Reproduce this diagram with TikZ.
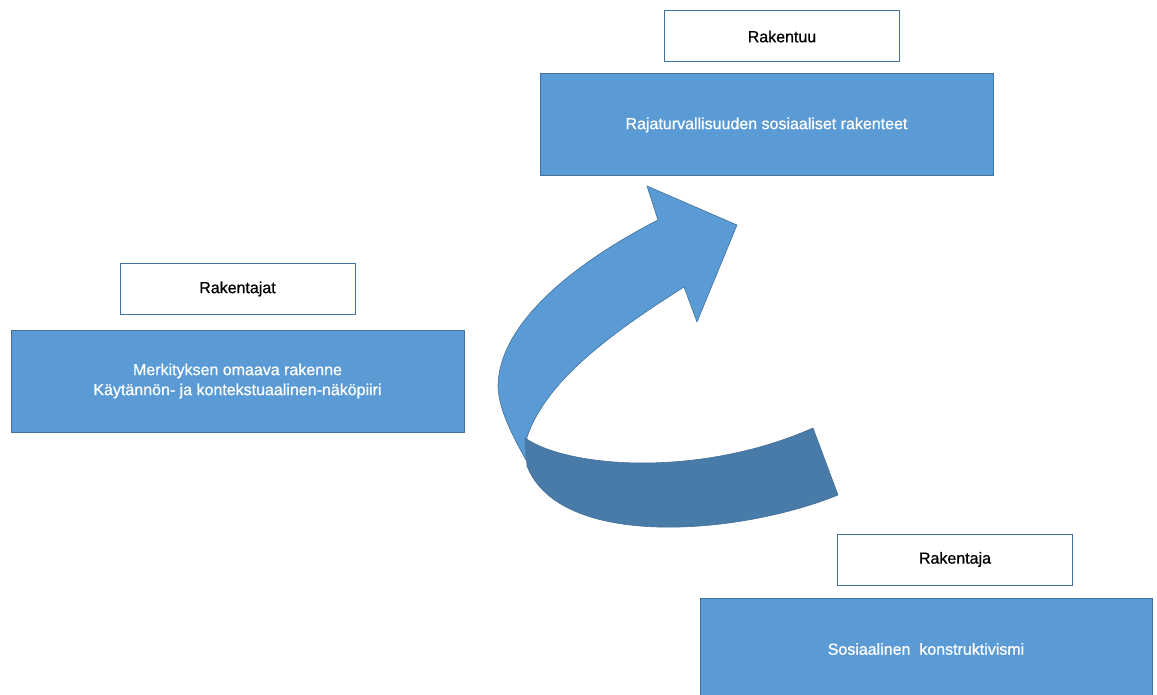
\documentclass[tikz,border=0pt]{standalone}
\usepackage{fontspec}
\setmainfont{Liberation Sans}
\newfontfamily\boxfont[FakeBold=0.8]{Liberation Sans}
\definecolor{boxblue}{HTML}{5B9BD5}
\definecolor{boxedge}{HTML}{41719C}
\definecolor{darkband}{HTML}{497BA9}
\tikzset{
  bluebox/.style={draw=boxedge, line width=1pt, fill=boxblue, text=white, inner sep=0pt, outer sep=0pt,
    minimum width=453pt, minimum height=102pt, align=center, font=\boxfont\fontsize{16}{20}\selectfont},
  labelbox/.style={draw=boxedge, line width=1pt, fill=white, text=black, inner sep=0pt, outer sep=0pt,
    minimum width=235pt, minimum height=51pt, align=center, font=\boxfont\fontsize{16}{20}\selectfont},
  ribbonlight/.style={fill=boxblue, draw=boxedge, line width=0.6pt, line join=round},
  ribbondark/.style={fill=darkband, draw=darkband!90!black, line width=0.6pt, line join=round}
}
\begin{document}
\begin{tikzpicture}[x=1pt,y=-1pt]
\clip (0,0) rectangle (1157,695);
\fill[white] (0,0) rectangle (1157,695);

% boxes
\node[labelbox] (rakentuu) at (782,36.5) {Rakentuu};
\node[bluebox] (rajat) at (766.5,125) {Rajaturvallisuuden sosiaaliset rakenteet};
\node[labelbox] (rakentajat) at (237.5,289) {Rakentajat};
\node[bluebox] (merk) at (237.5,381) {Merkityksen omaava rakenne\\Käytännön- ja kontekstuaalinen-näköpiiri};
\node[labelbox] (rakentaja) at (955,559.5) {Rakentaja};
\node[bluebox, minimum width=452pt] (sosi) at (926,649) {Sosiaalinen\ \ konstruktivismi};

% curved ribbon arrow (front face)
\draw[ribbonlight] (527,437) .. controls (545,385) and (600,340) .. (684,287)
  -- (697,322) -- (737,225) -- (647,186) -- (658,220)
  .. controls (580,260) and (500,320) .. (498,385)
  .. controls (498,410) and (515,440) .. (526,460) -- cycle;
% back face
\draw[ribbondark] (525,438) .. controls (568,468) and (700,478) .. (813,428)
  -- (838,495) .. controls (740,535) and (560,550) .. (527,466) -- cycle;
\end{tikzpicture}
\end{document}
